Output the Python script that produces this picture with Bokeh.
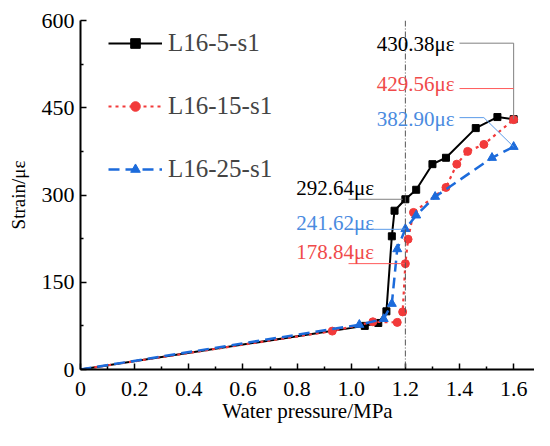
from bokeh.plotting import figure
from bokeh.models import (Range1d, FixedTicker, Label, Legend, LegendItem, Span)
from bokeh.embed import file_html
from bokeh.resources import INLINE

# ---------------- data ----------------
x_s5 = [0, 1.05, 1.10, 1.13, 1.15, 1.16, 1.20, 1.24, 1.30, 1.35, 1.46, 1.54, 1.60]
y_s5 = [0, 75, 80, 100, 229, 273, 292.64, 309, 353, 364, 415, 434, 430.38]

x_s15 = [0, 0.93, 1.08, 1.17, 1.19, 1.20, 1.21, 1.23, 1.35, 1.39, 1.43, 1.49, 1.60]
y_s15 = [0, 66, 82, 81, 99, 182, 224, 270, 313, 353, 375, 387, 429.56]

x_s25 = [0, 1.03, 1.12, 1.15, 1.17, 1.20, 1.24, 1.31, 1.52, 1.60]
y_s25 = [0, 77, 87, 113, 207, 241.62, 265, 297, 364, 382.90]

series_names = ["L16-5-s1", "L16-15-s1", "L16-25-s1"]

x_ticks = [0, 0.2, 0.4, 0.6, 0.8, 1.0, 1.2, 1.4, 1.6]
x_tick_labels = ["0", "0.2", "0.4", "0.6", "0.8", "1.0", "1.2", "1.4", "1.6"]
x_minor = [0.1, 0.3, 0.5, 0.7, 0.9, 1.1, 1.3, 1.5]
y_ticks = [0, 150, 300, 450, 600]
y_minor = [75, 225, 375, 525]

ref_pressure = 1.2

x_title = "Water pressure/MPa"
y_title = "Strain/με"
ann_texts = ["430.38με", "429.56με", "382.90με", "292.64με", "241.62με", "178.84με"]

FONT = "Times New Roman"
BLACK = "#000000"
RED = "#F23A3A"
BLUE = "#1C6BDB"
RED_T = "#F04A4A"
BLUE_T = "#4A8BDF"

p = figure(width=534, height=430, output_backend="svg", toolbar_location=None,
           x_range=Range1d(0, 1.677), y_range=Range1d(0, 600),
           min_border_left=80, min_border_right=0, min_border_top=20,
           min_border_bottom=61)
p.outline_line_color = None
p.grid.visible = False
p.background_fill_color = "white"

p.add_layout(Span(location=ref_pressure, dimension="height", line_color="#555555",
                  line_width=1, line_dash="6 2 1 2"))

l5 = p.line(x_s5, y_s5, line_color=BLACK, line_width=2)
m5 = p.scatter(x_s5[1:], y_s5[1:], marker="square", size=7, color=BLACK)
l15 = p.line(x_s15, y_s15, line_color=RED, line_width=2.2, line_dash="3 4")
m15 = p.scatter(x_s15[1:], y_s15[1:], marker="circle", size=8, color=RED)
l25 = p.line(x_s25, y_s25, line_color=BLUE, line_width=2.5, line_dash="11 6")
m25 = p.scatter(x_s25[1:], y_s25[1:], marker="triangle", size=9, color=BLUE)

# leader lines for the value annotations
lx_r = 1.40
lx_l = 0.99
p.line([lx_r, x_s5[-1], x_s5[-1]], [561, 561, y_s5[-1]], line_color="#808080", line_width=1)
p.line([lx_r, x_s15[-1]], [483, 483], line_color="#FF5A5A", line_width=1)
p.line([lx_r, 1.49, x_s25[-1]], [433, 433, y_s25[-1]], line_color="#5B9BE8", line_width=1)
p.line([lx_l, 1.19], [y_s5[6], y_s5[6]], line_color="#808080", line_width=1)
p.line([lx_l, 1.177, x_s25[5]], [241, 241, y_s25[5]], line_color="#5B9BE8", line_width=1)
p.line([lx_l, x_s15[5]], [y_s15[5], y_s15[5]], line_color="#FF5A5A", line_width=1)

ann = [
    (1.094, 560, ann_texts[0], BLACK, "left"),
    (1.094, 491, ann_texts[1], RED_T, "left"),
    (1.094, 431, ann_texts[2], BLUE_T, "left"),
    (1.084, 312, ann_texts[3], BLACK, "right"),
    (1.084, 252, ann_texts[4], BLUE_T, "right"),
    (1.084, 202, ann_texts[5], RED_T, "right"),
]
for ax, ay, t, c, al in ann:
    p.add_layout(Label(x=ax, y=ay, text=t, text_color=c, text_font=FONT,
                       text_font_size="21px", text_align=al,
                       text_baseline="alphabetic"))

for ax in (p.xaxis[0], p.yaxis[0]):
    ax.axis_line_width = 2
    ax.axis_line_color = "black"
    ax.major_tick_in = 6
    ax.major_tick_out = 0
    ax.minor_tick_in = 3
    ax.minor_tick_out = 0
    ax.major_tick_line_width = 1.5
    ax.minor_tick_line_width = 1.5
    ax.major_label_text_font = FONT
    ax.major_label_text_font_size = "22px"
    ax.major_label_text_color = "black"
    ax.axis_label_text_font = FONT
    ax.axis_label_text_font_style = "normal"
    ax.axis_label_text_color = "black"

p.xaxis.ticker = FixedTicker(ticks=x_ticks, minor_ticks=x_minor)
p.xaxis.major_label_overrides = dict(zip(x_ticks, x_tick_labels))
p.xaxis.major_label_standoff = 12
p.xaxis.axis_label = x_title
p.xaxis.axis_label_text_font_size = "21px"
p.xaxis.axis_label_standoff = 0

p.yaxis.ticker = FixedTicker(ticks=y_ticks, minor_ticks=y_minor)
p.yaxis.major_label_standoff = 6
p.yaxis.axis_label = y_title
p.yaxis.axis_label_text_font_size = "19px"
p.yaxis.axis_label_standoff = 10

legend = Legend(items=[
    LegendItem(label=series_names[0], renderers=[l5, m5]),
    LegendItem(label=series_names[1], renderers=[l15, m15]),
    LegendItem(label=series_names[2], renderers=[l25, m25]),
], location=(28, 186))
legend.glyph_width = 54
legend.glyph_height = 24
legend.label_height = 24
legend.spacing = 35
legend.padding = 10
legend.margin = 0
legend.label_standoff = 6
legend.label_text_font = FONT
legend.label_text_font_size = "25px"
legend.border_line_color = None
legend.background_fill_alpha = 0
p.add_layout(legend)

open("out.html", "w").write(file_html(p, INLINE))
